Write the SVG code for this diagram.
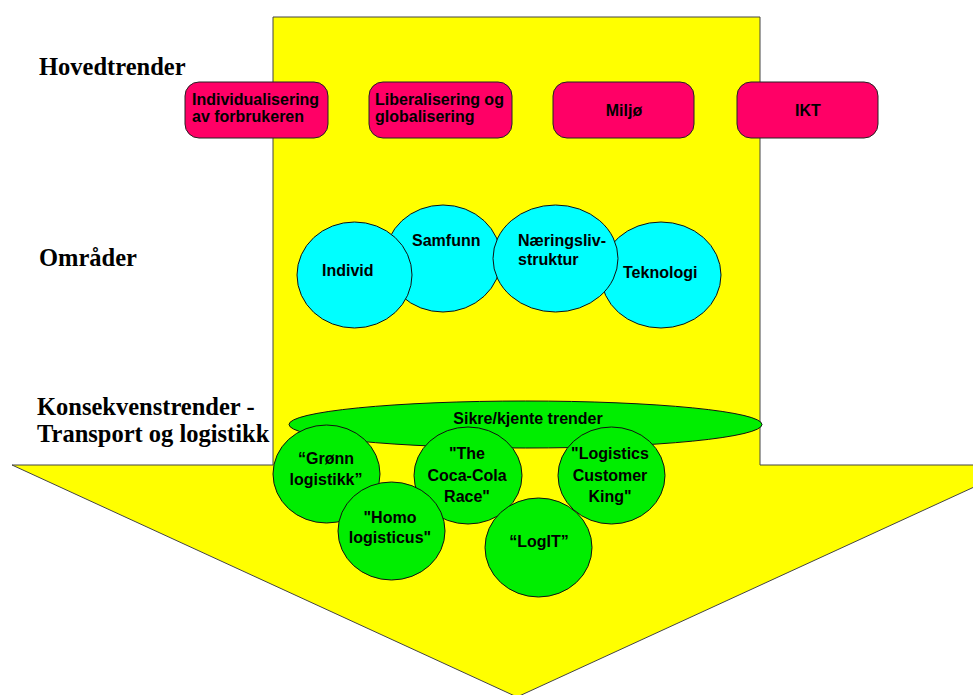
<svg xmlns="http://www.w3.org/2000/svg" width="973" height="695" viewBox="0 0 973 695">
<style>
.lbl{font-family:"Liberation Serif","Times New Roman",serif;font-weight:bold;font-size:24.5px;fill:#000}
.t{font-family:"Liberation Sans",Arial,sans-serif;font-weight:bold;font-size:16px;fill:#000}
.c{text-anchor:middle}
.pink{fill:#FF0066;stroke:#222;stroke-width:1}
.cyan{fill:#00FFFF;stroke:#111;stroke-width:1}
.green{fill:#00EE00;stroke:#111;stroke-width:1}
</style>
<rect width="973" height="695" fill="#fff"/>
<g id="arrow">
<polygon points="273,17 760,17 760,465 1022,465 517,697 12,465 273,465" fill="#FFFF00" stroke="#444" stroke-width="1"/>
</g>
<g id="labels">
<text class="lbl" x="39" y="75">Hovedtrender</text>
<text class="lbl" x="39" y="266">Områder</text>
<text class="lbl" x="37" y="415">Konsekvenstrender -</text>
<text class="lbl" x="37" y="442">Transport og logistikk</text>
</g>
<g id="connectors"></g>
<g id="hoved1"><rect class="pink" x="185" y="82" width="143" height="56" rx="14"/>
<text class="t" x="192" y="105">Individualisering</text><text class="t" x="192" y="122">av forbrukeren</text></g>
<g id="hoved2"><rect class="pink" x="369" y="82" width="143" height="56" rx="14"/>
<text class="t" x="375" y="105">Liberalisering og</text><text class="t" x="375" y="122">globalisering</text></g>
<g id="hoved3"><rect class="pink" x="553" y="82" width="141" height="56" rx="14"/>
<text class="t c" x="624" y="116">Miljø</text></g>
<g id="hoved4"><rect class="pink" x="737" y="82" width="141" height="56" rx="14"/>
<text class="t c" x="808" y="116">IKT</text></g>
<g id="samfunn"><ellipse class="cyan" cx="443" cy="258.5" rx="58" ry="53.5"/>
<text class="t" x="412" y="246">Samfunn</text></g>
<g id="teknologi"><ellipse class="cyan" cx="661" cy="275" rx="60" ry="53"/>
<text class="t" x="623" y="278">Teknologi</text></g>
<g id="individ"><ellipse class="cyan" cx="354.5" cy="275" rx="57.5" ry="53"/>
<text class="t" x="322" y="276">Individ</text></g>
<g id="naeringsliv"><ellipse class="cyan" cx="555.5" cy="258.5" rx="62.5" ry="53.5"/>
<text class="t" x="518" y="246">Næringsliv-</text><text class="t" x="518" y="265">struktur</text></g>
<g id="sikre"><ellipse class="green" cx="525.5" cy="424.5" rx="236.5" ry="23.5"/>
<text class="t c" x="528" y="424">Sikre/kjente trender</text></g>
<g id="gronn"><ellipse class="green" cx="326.5" cy="474" rx="53.5" ry="49"/>
<text class="t c" x="326" y="464">“Grønn</text><text class="t c" x="326" y="485">logistikk”</text></g>
<g id="coca"><ellipse class="green" cx="468" cy="475.5" rx="54" ry="48.5"/>
<text class="t c" x="467" y="459">"The</text><text class="t c" x="467" y="481">Coca-Cola</text><text class="t c" x="467" y="502">Race"</text></g>
<g id="customer"><ellipse class="green" cx="611.5" cy="475.5" rx="53.5" ry="48.5"/>
<text class="t c" x="610" y="459">"Logistics</text><text class="t c" x="610" y="481">Customer</text><text class="t c" x="610" y="502">King"</text></g>
<g id="homo"><ellipse class="green" cx="391.5" cy="531" rx="53.5" ry="49"/>
<text class="t c" x="390" y="523">"Homo</text><text class="t c" x="390" y="543">logisticus"</text></g>
<g id="logit"><ellipse class="green" cx="538.5" cy="547.5" rx="53.5" ry="49.5"/>
<text class="t c" x="539" y="547">“LogIT”</text></g>
</svg>
